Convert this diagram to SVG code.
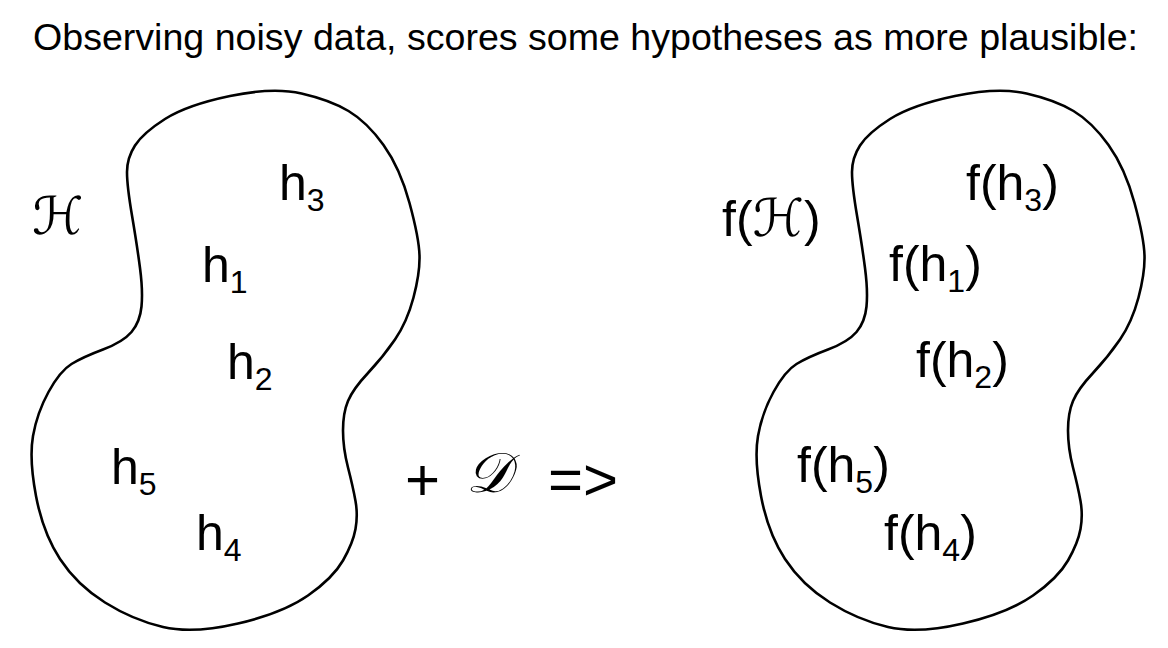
<svg xmlns="http://www.w3.org/2000/svg" width="1168" height="648" viewBox="0 0 1168 648">
<style>
.t{font-family:"Liberation Sans","DejaVu Sans",sans-serif;fill:#000}
.lab{font-size:50px}
.sub{font-size:32px}
.op{font-size:60px}
.cal{font-family:"DejaVu Serif","DejaVu Sans",serif;font-style:italic}
.blob{fill:none;stroke:#000;stroke-width:2.6}
</style>
<defs>
<path id="blobshape" d="M230,96 Q273,87 301.5,93.5 Q330,100 348.5,111 Q367,122 383.5,145 Q400,168 409.5,203 Q419,238 419.5,255.5 Q420,273 413.5,297.5 Q407,322 395,339.5 Q383,357 368,373 Q353,389 348,401 Q343,413 343,430.5 Q343,448 348,467.5 Q353,487 355.5,501 Q358,515 355.5,529 Q353,543 343,560.5 Q333,578 308,595.5 Q283,613 238,623.5 Q193,634 163,627 Q133,620 105,602.5 Q77,585 60,559 Q43,533 36,496 Q29,459 33,436 Q37,413 48.5,392 Q60,371 71.5,364 Q83,357 103,349.5 Q123,342 131.5,332 Q140,322 141.5,306.5 Q143,291 140,268 Q137,245 132,215.5 Q127,186 127,172 Q127,158 135,145.5 Q143,133 165,119 Q187,105 230,96 Z"/>
</defs>
<text class="t" x="33" y="50" font-size="37.6" textLength="1105" lengthAdjust="spacingAndGlyphs">Observing noisy data, scores some hypotheses as more plausible:</text>
<g id="hypothesis-space">
<use href="#blobshape" class="blob"/>
<text class="t cal" x="32" y="234" font-size="52">ℋ</text>
</g>
<g id="h3"><text class="t lab" x="279" y="200">h<tspan class="sub" dy="11">3</tspan></text></g>
<g id="h1"><text class="t lab" x="202" y="282">h<tspan class="sub" dy="11">1</tspan></text></g>
<g id="h2"><text class="t lab" x="227" y="379">h<tspan class="sub" dy="11">2</tspan></text></g>
<g id="h5"><text class="t lab" x="111" y="484">h<tspan class="sub" dy="11">5</tspan></text></g>
<g id="h4"><text class="t lab" x="196" y="550">h<tspan class="sub" dy="11">4</tspan></text></g>
<g id="operator">
<text class="t op" x="405" y="500">+</text>
<text class="t cal" x="466" y="492" font-size="56">𝒟</text>
<text class="t op" x="548" y="500">=&gt;</text>
</g>
<g id="scored-space">
<use href="#blobshape" class="blob" transform="translate(725,0)"/>
<text class="t lab" x="722" y="236">f(<tspan class="cal" font-size="52">ℋ</tspan>)</text>
</g>
<g id="fh3"><text class="t lab" x="966" y="200">f(h<tspan class="sub" dy="11">3</tspan><tspan dy="-11">)</tspan></text></g>
<g id="fh1"><text class="t lab" x="889" y="281">f(h<tspan class="sub" dy="11">1</tspan><tspan dy="-11">)</tspan></text></g>
<g id="fh2"><text class="t lab" x="916" y="377">f(h<tspan class="sub" dy="11">2</tspan><tspan dy="-11">)</tspan></text></g>
<g id="fh5"><text class="t lab" x="797" y="482">f(h<tspan class="sub" dy="11">5</tspan><tspan dy="-11">)</tspan></text></g>
<g id="fh4"><text class="t lab" x="884" y="550">f(h<tspan class="sub" dy="11">4</tspan><tspan dy="-11">)</tspan></text></g>
<g id="connectors"></g>
</svg>
